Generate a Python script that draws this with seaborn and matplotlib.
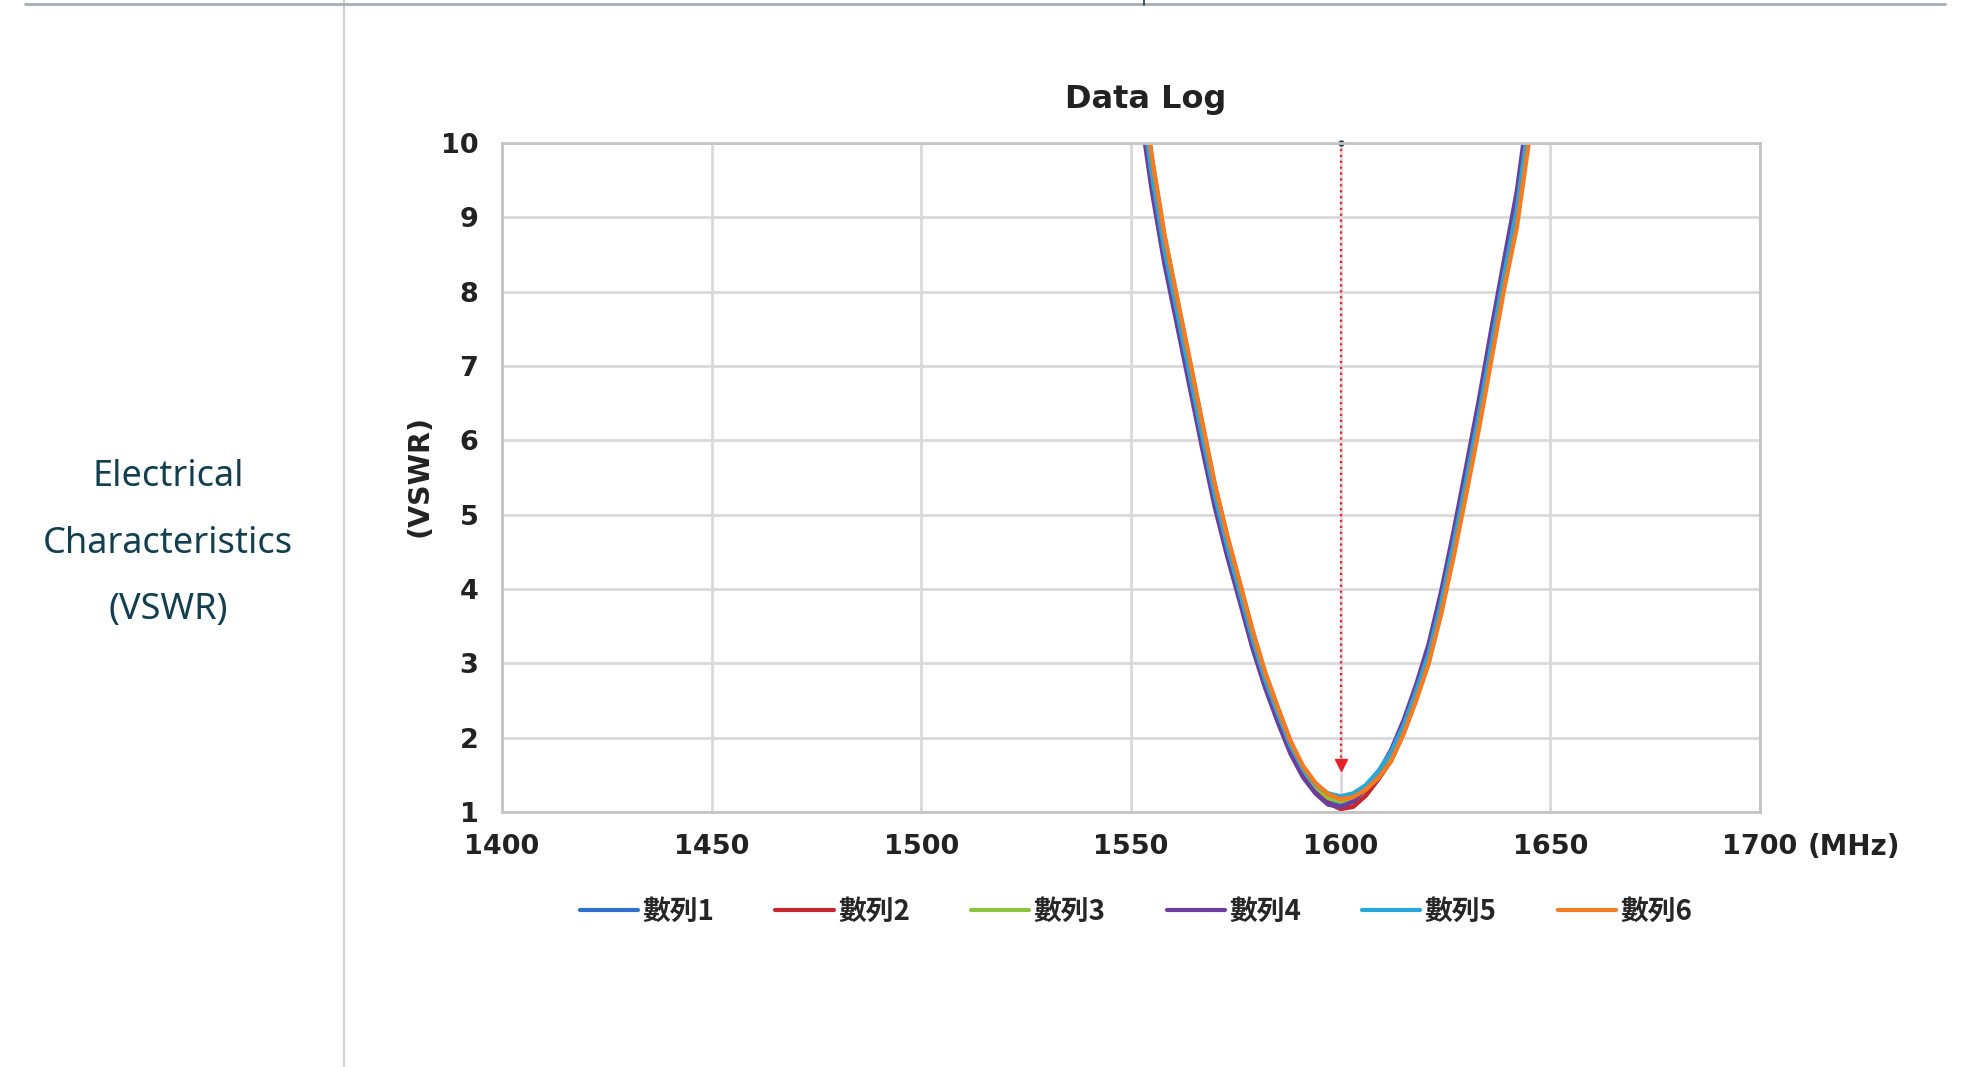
import pandas as pd
import numpy as np
import matplotlib
matplotlib.use('Agg')
import matplotlib.pyplot as plt
import seaborn as sns

# frequency grid (MHz) shared by all six sweeps
freq = [1552, 1555, 1558, 1561, 1564, 1567, 1570, 1573, 1576, 1579, 1582,
        1585, 1588, 1591, 1594, 1597, 1600, 1603, 1606, 1609, 1612, 1615,
        1618, 1621, 1624, 1627, 1630, 1633, 1636, 1639, 1642, 1645, 1648]

vswr_1 = [10.64, 9.46, 8.46, 7.64, 6.81, 5.97, 5.17, 4.50, 3.88, 3.25, 2.72,
          2.26, 1.83, 1.50, 1.29, 1.14, 1.10, 1.16, 1.31, 1.52, 1.79, 2.19,
          2.66, 3.20, 3.90, 4.71, 5.57, 6.46, 7.41, 8.34, 9.23, 10.46, 11.66]
vswr_2 = [11.00, 9.78, 8.73, 7.89, 7.06, 6.22, 5.39, 4.69, 4.06, 3.43, 2.86,
          2.40, 1.95, 1.58, 1.30, 1.12, 1.04, 1.07, 1.22, 1.44, 1.69, 2.06,
          2.52, 3.02, 3.79, 4.61, 5.50, 6.43, 7.38, 8.31, 9.19, 10.42, 11.62]
vswr_3 = [10.84, 9.64, 8.61, 7.78, 6.95, 6.11, 5.29, 4.60, 3.98, 3.35, 2.80,
          2.33, 1.89, 1.57, 1.34, 1.19, 1.14, 1.19, 1.31, 1.50, 1.74, 2.12,
          2.58, 3.10, 3.79, 4.58, 5.43, 6.31, 7.26, 8.19, 9.04, 10.26, 11.46]
vswr_4 = [10.52, 9.35, 8.37, 7.55, 6.72, 5.89, 5.10, 4.43, 3.82, 3.20, 2.67,
          2.21, 1.79, 1.47, 1.25, 1.10, 1.07, 1.14, 1.31, 1.53, 1.83, 2.23,
          2.71, 3.26, 3.97, 4.79, 5.66, 6.55, 7.51, 8.43, 9.34, 10.58, 11.78]
vswr_5 = [10.78, 9.58, 8.56, 7.73, 6.90, 6.06, 5.26, 4.57, 3.95, 3.33, 2.78,
          2.33, 1.90, 1.58, 1.37, 1.25, 1.21, 1.25, 1.36, 1.55, 1.80, 2.16,
          2.62, 3.13, 3.82, 4.62, 5.47, 6.35, 7.30, 8.23, 9.10, 10.32, 11.52]
vswr_6 = [11.04, 9.81, 8.76, 7.92, 7.09, 6.24, 5.41, 4.71, 4.08, 3.44, 2.88,
          2.41, 1.96, 1.62, 1.39, 1.24, 1.17, 1.20, 1.30, 1.46, 1.68, 2.05,
          2.50, 3.00, 3.67, 4.45, 5.29, 6.16, 7.10, 8.04, 8.86, 10.06, 11.26]

series_names = ['數列1', '數列2', '數列3', '數列4', '數列5', '數列6']
series_colors = ['#2f6fce', '#c4282c', '#8bc43f', '#6b3fa0', '#28a8d8', '#f47b20']

x_ticks = [1400, 1450, 1500, 1550, 1600, 1650, 1700]
y_ticks = [1, 2, 3, 4, 5, 6, 7, 8, 9, 10]

# marker arrow at centre frequency
marker_freq = 1600
marker_top = 10
marker_tip = 1.55

rows = []
for name, vals in zip(series_names, [vswr_1, vswr_2, vswr_3, vswr_4, vswr_5, vswr_6]):
    for f, v in zip(freq, vals):
        rows.append({'freq': f, 'vswr': v, 'series': name})
df = pd.DataFrame(rows)

sns.set_theme(style='white')
plt.rcParams['font.family'] = ['DejaVu Sans', 'Noto Sans CJK TC']

fig = plt.figure(figsize=(19.64, 10.67), dpi=100)
ax = fig.add_axes([0.2556, 0.2390, 0.6405, 0.6270])

sns.lineplot(data=df, x='freq', y='vswr', hue='series', palette=series_colors,
             linewidth=3.2, ax=ax, sort=False)

ax.set_xlim(1400, 1700)
ax.set_ylim(1, 10)
ax.set_xticks(x_ticks)
ax.set_yticks(y_ticks)
ax.set_xticklabels([str(t) for t in x_ticks], fontsize=19.5, fontweight='bold', color='#222222')
ax.set_yticklabels([str(t) for t in y_ticks], fontsize=19.5, fontweight='bold', color='#222222')
ax.tick_params(axis='both', length=0)
ax.tick_params(axis='x', pad=16)
ax.tick_params(axis='y', pad=17)
ax.set_xlabel('')
ax.set_ylabel('')
ax.grid(True, color='#d9d9d9', linewidth=2)
ax.set_axisbelow(True)
for s in ax.spines.values():
    s.set_color('#c4c4c4')
    s.set_linewidth(2)

# red dotted marker line
ax.plot([marker_freq, marker_freq], [marker_top, marker_tip + 0.12], color='#e8202a',
        linestyle=':', linewidth=1.6)
ax.plot([marker_freq], [marker_tip + 0.08], marker='v', color='#e8202a', markersize=8)
ax.plot([marker_freq], [marker_top], marker='o', color='#1c3d50', markersize=3.5, clip_on=False)

handles, labels = ax.get_legend_handles_labels()
ax.get_legend().remove()
leg = fig.legend(handles, labels, loc='center', bbox_to_anchor=(0.5784, 0.1453), ncol=6,
                 frameon=False, handlelength=2.1, handletextpad=0.15, columnspacing=2.2,
                 prop={'family': ['Noto Sans CJK TC'], 'weight': 'bold', 'size': 20})
for h in leg.get_lines():
    h.set_linewidth(3)

fig.text(0.5835, 0.9072, 'Data Log', ha='center', va='center', fontsize=23,
         fontweight='bold', color='#222222')
fig.text(0.2138, 0.5539, '(VSWR)', ha='center', va='center', rotation=90, fontsize=20.5,
         fontweight='bold', color='#222222')
fig.text(0.9206, 0.2062, '(MHz)', ha='left', va='center', fontsize=20,
         fontweight='bold', color='#222222')

# left side panel
for label, ypix in zip(['Electrical', 'Characteristics', '(VSWR)'], [477, 544, 610]):
    fig.text(168 / 1964, 1 - ypix / 1067, label, ha='center', va='center', fontsize=26,
             family='Noto Sans', color='#123f50')

fig.add_artist(plt.Line2D([344 / 1964, 344 / 1964], [0, 1], color='#d0d0d0', linewidth=1.5))
fig.add_artist(plt.Line2D([25 / 1964, 1945 / 1964], [1 - 4 / 1067, 1 - 4 / 1067],
                          color='#a3aeb5', linewidth=2))
fig.add_artist(plt.Line2D([1144 / 1964, 1144 / 1964], [1 - 5 / 1067, 1], color='#1c3d50',
                          linewidth=1.2))

fig.savefig('out.png', dpi=100)
